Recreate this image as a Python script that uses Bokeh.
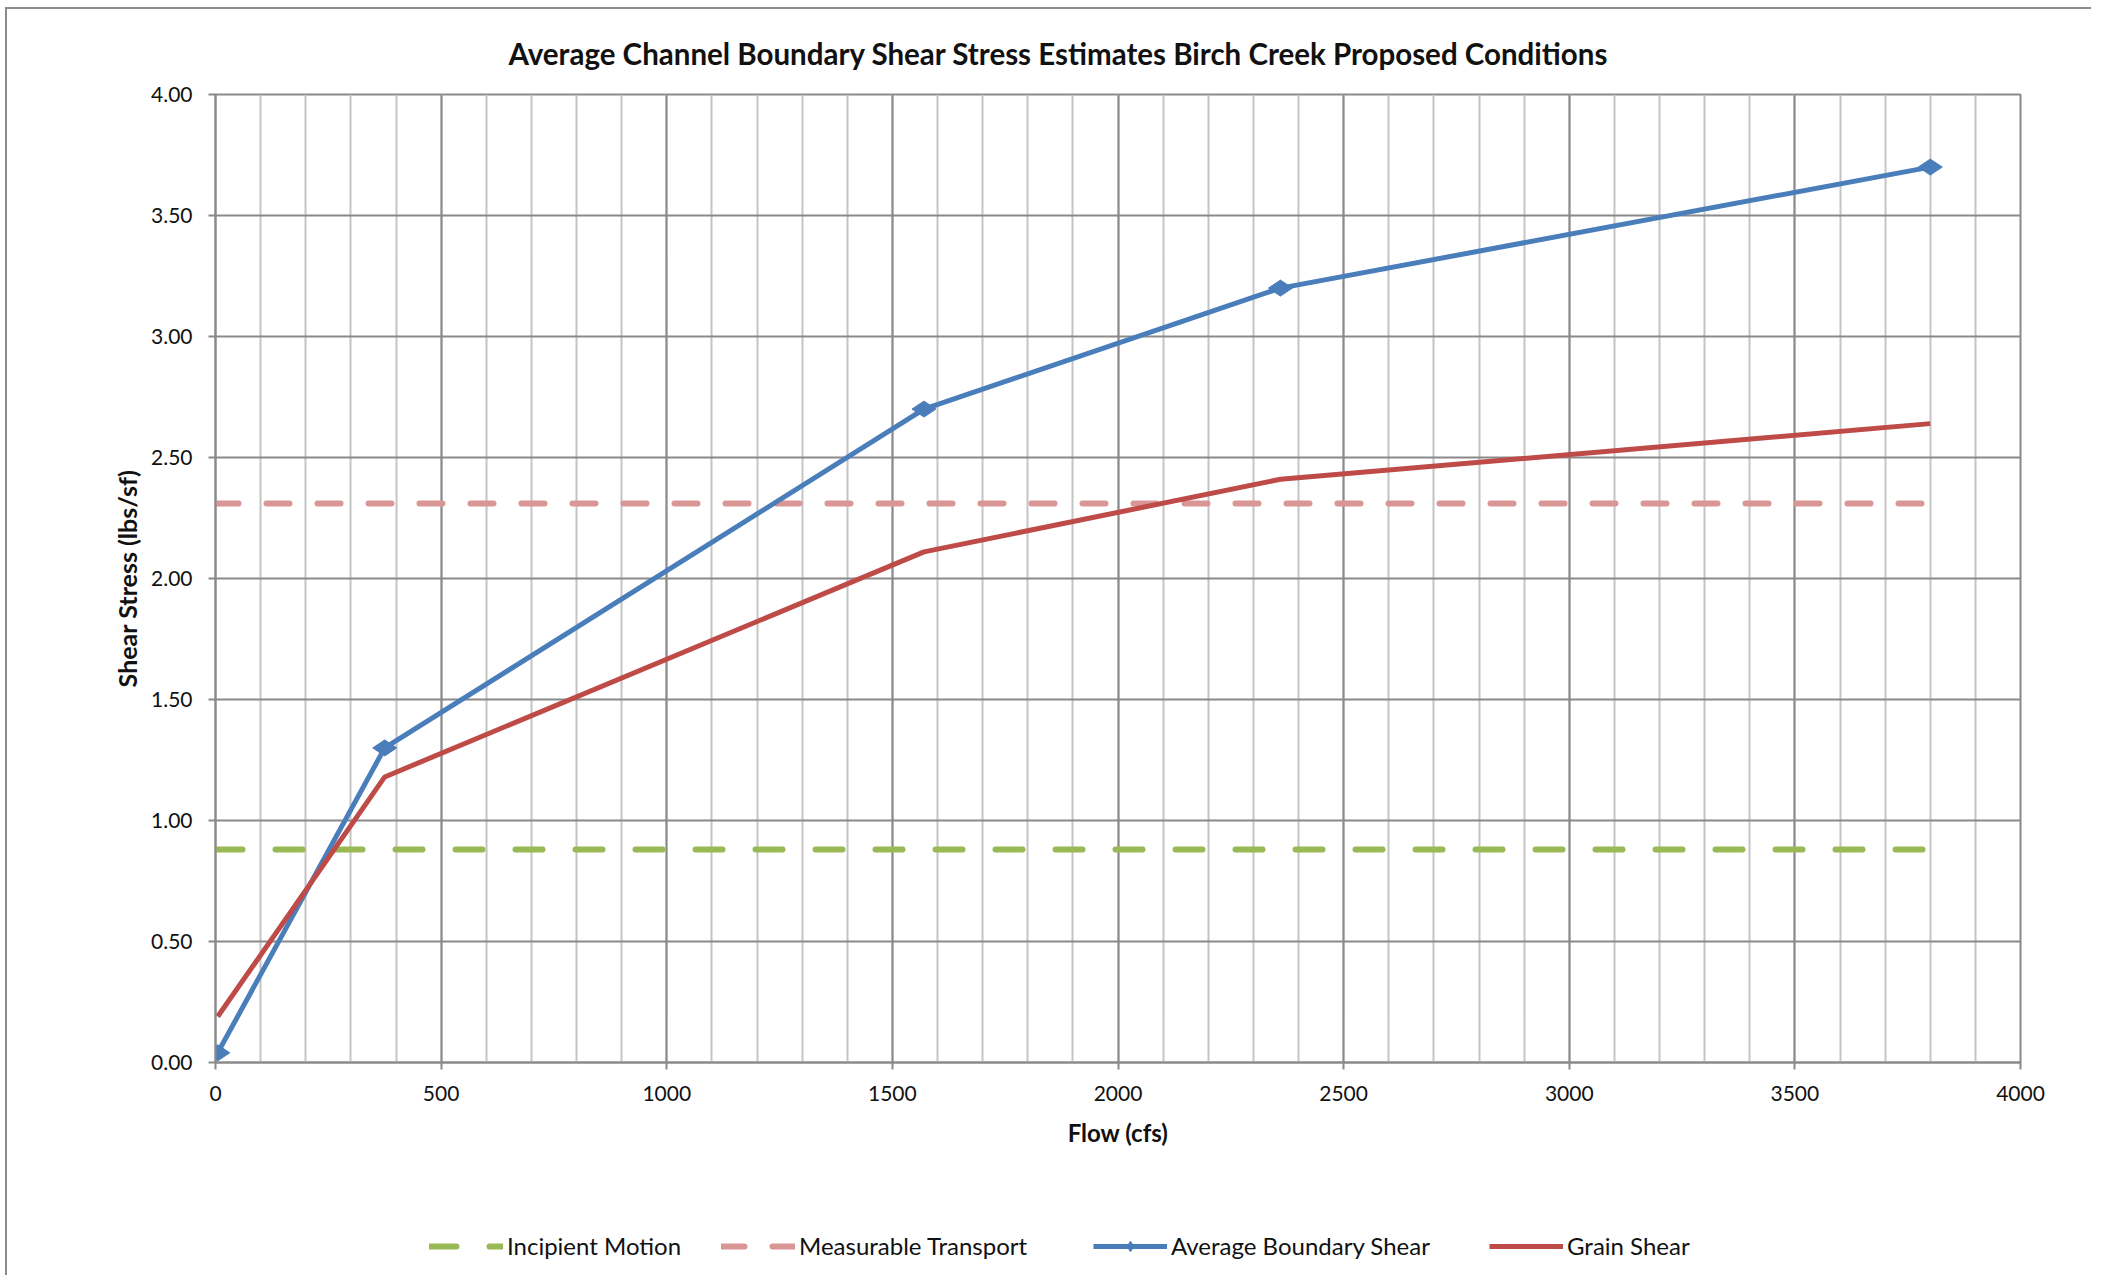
import math
from bokeh.plotting import figure
from bokeh.layouts import column
from bokeh.models import (Legend, LegendItem, SingleIntervalTicker, NumeralTickFormatter,
                          Range1d, Title)
from bokeh.embed import file_html
from bokeh.resources import INLINE

# ---- data ----
flow = [5, 375, 1570, 2360, 3800]
avg_boundary_shear = [0.04, 1.30, 2.70, 3.20, 3.70]
grain_shear = [0.19, 1.18, 2.11, 2.41, 2.64]
threshold_flow = [0, 3800]
incipient_motion = [0.88, 0.88]
measurable_transport = [2.31, 2.31]

series_names = ["Incipient Motion", "Measurable Transport", "Average Boundary Shear", "Grain Shear"]
title_text = "Average Channel Boundary Shear Stress Estimates Birch Creek Proposed Conditions"
x_label = "Flow (cfs)"
y_label = "Shear Stress (lbs/sf)"

FONT = "Lato"
GRID_DARK = "#8a8a8a"
GRID_LIGHT = "#c4c4c4"
C_INC, C_MEAS, C_AVG, C_GRAIN = "#98B954", "#D99694", "#4A7EBB", "#BE4B48"

W = 2084

p = figure(width=W, height=1190, output_backend="svg", toolbar_location=None,
           x_range=Range1d(0, 4000), y_range=Range1d(0, 4),
           min_border_left=208, min_border_right=71, min_border_top=85, min_border_bottom=137,
           background_fill_color="white", border_fill_color="white")

p.title = Title(text=title_text, align="left", offset=293, standoff=47,
                text_font=FONT, text_font_size="29.5px", text_font_style="bold", text_color="#111111")

p.outline_line_color = GRID_DARK
p.outline_line_width = 2

# axes
p.xaxis.ticker = SingleIntervalTicker(interval=500, num_minor_ticks=5)
p.yaxis.ticker = SingleIntervalTicker(interval=0.5, num_minor_ticks=0)
p.yaxis.formatter = NumeralTickFormatter(format="0.00")
for ax in (p.xaxis[0], p.yaxis[0]):
    ax.axis_line_color = GRID_DARK
    ax.axis_line_width = 2
    ax.major_tick_line_color = GRID_DARK
    ax.major_tick_line_width = 2
    ax.major_tick_out = 7
    ax.major_tick_in = 0
    ax.minor_tick_line_color = None
    ax.major_label_text_font = FONT
    ax.major_label_text_font_size = "21px"
    ax.major_label_text_color = "#111111"
    ax.axis_label_text_font = FONT
    ax.axis_label_text_font_size = "24px"
    ax.axis_label_text_font_style = "bold"
    ax.axis_label_text_color = "#111111"
p.yaxis.axis_label_text_font_size = "25px"
p.xaxis.axis_label = x_label
p.yaxis.axis_label = y_label
p.xaxis.major_label_standoff = 16
p.xaxis.axis_label_standoff = 14
p.yaxis.major_label_standoff = 16
p.yaxis.axis_label_standoff = 6

# grids
p.xgrid.grid_line_color = GRID_DARK
p.xgrid.grid_line_width = 2
p.xgrid.minor_grid_line_color = GRID_LIGHT
p.xgrid.minor_grid_line_width = 2
p.ygrid.grid_line_color = GRID_DARK
p.ygrid.grid_line_width = 2


def draw_series(fig):
    r_inc = fig.line(threshold_flow, incipient_motion, line_color=C_INC, line_width=6,
                     line_dash="27 33", line_cap="round")
    r_meas = fig.line(threshold_flow, measurable_transport, line_color=C_MEAS, line_width=6,
                      line_dash="23 28", line_cap="round")
    r_avg = fig.line(flow, avg_boundary_shear, line_color=C_AVG, line_width=5)
    r_avg_m = fig.scatter(flow, avg_boundary_shear, marker="diamond", size=24, angle=math.pi / 2,
                          fill_color=C_AVG, line_color=C_AVG)
    r_grain = fig.line(flow, grain_shear, line_color=C_GRAIN, line_width=5)
    return [[r_inc], [r_meas], [r_avg, r_avg_m], [r_grain]]


draw_series(p)

# ---- legend strip (a second figure below the chart, whose data lie out of view) ----
leg = figure(width=W, height=76, output_backend="svg", toolbar_location=None,
             x_range=Range1d(0, 4000), y_range=Range1d(10, 11),
             x_axis_type=None, y_axis_type=None,
             min_border_left=0, min_border_right=0, min_border_top=0, min_border_bottom=0,
             background_fill_color="white", border_fill_color="white")
leg.outline_line_color = None
leg.xgrid.visible = False
leg.ygrid.visible = False
groups = draw_series(leg)

legend_x = [214, 506, 878, 1274]
for name, rends, lx in zip(series_names, groups, legend_x):
    lg = Legend(items=[LegendItem(label=name, renderers=rends)],
                orientation="horizontal", location=(lx, 15), padding=5, margin=0,
                glyph_width=74, glyph_height=26, label_standoff=4,
                label_text_font=FONT, label_text_font_size="24px", label_text_color="#111111",
                border_line_color=None, background_fill_alpha=0)
    leg.add_layout(lg)

layout = column(p, leg, spacing=0,
                styles={"border-top": "2px solid #8c8c8c", "border-left": "2px solid #8c8c8c",
                        "margin-left": "5px", "margin-top": "7px"})
open("out.html", "w").write(file_html(layout, INLINE))
